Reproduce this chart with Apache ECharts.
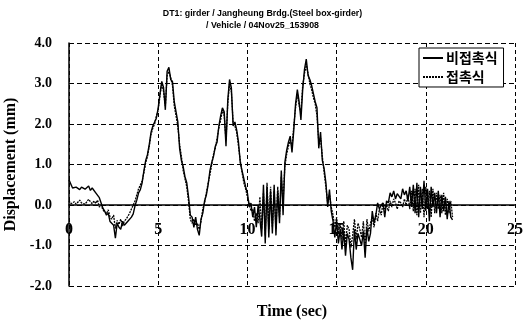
<!DOCTYPE html>
<html><head><meta charset="utf-8">
<script src="https://cdn.jsdelivr.net/npm/echarts@6/dist/echarts.min.js"></script>
<style>html,body{margin:0;padding:0;background:#fff}#c{width:525px;height:323px}</style>
</head><body><div id="c"></div>
<script>
const titleLines = ['DT1: girder / Jangheung Brdg.(Steel box-girder)', '/ Vehicle / 04Nov25_153908'];
const seriesNames = ['비접촉식', '접촉식'];
const xAxisName = 'Time (sec)';
const yAxisName = 'Displacement (mm)';
const xTicks = [0, 5, 10, 15, 20, 25];
const yTicks = [-2, -1, 0, 1, 2, 3, 4];
const sampleStart = 0;   // seconds
const sampleStep = 0.1;  // seconds between samples

const nonContact = [
  0.62, 0.52, 0.42, 0.38, 0.44, 0.47, 0.38, 0.44, 0.48, 0.39,
  0.42, 0.47, 0.36, 0.42, 0.45, 0.30, 0.33, 0.18, 0.05, -0.08,
  -0.15, -0.25, -0.20, -0.41, -0.38, -0.50, -0.82, -0.45, -0.55, -0.60,
  -0.40, -0.50, -0.52, -0.40, -0.38, -0.30, -0.22, -0.02, 0.12, 0.30,
  0.38, 0.55, 0.85, 1.10, 1.25, 1.50, 1.80, 1.95, 2.05, 2.15,
  2.40, 2.75, 3.05, 2.90, 2.35, 3.30, 3.40, 3.10, 3.05, 2.55,
  2.30, 2.05, 1.40, 1.10, 0.95, 0.70, 0.55, 0.20, -0.25, -0.30,
  -0.55, -0.30, -0.60, -0.75, -0.35, -0.20, 0.10, 0.25, 0.50, 0.85,
  1.05, 1.20, 1.45, 1.55, 1.95, 2.20, 2.40, 2.30, 1.45, 2.60,
  3.10, 2.90, 1.95, 2.05, 1.85, 1.55, 1.05, 0.85, 0.65, 0.45,
  0.30, -0.05, 0.05, -0.30, -0.05, -0.55, 0.00, -0.35, -0.78, 0.50,
  -0.95, 0.45, -0.80, 0.35, -0.70, 0.50, -0.75, 0.35, -0.45, 0.85,
  -0.25, 1.05, 1.35, 1.55, 1.70, 1.30, 1.85, 2.50, 2.85, 2.55,
  2.10, 2.85, 3.35, 3.60, 3.20, 3.10, 2.95, 2.75, 2.55, 2.40,
  1.40, 1.80, 1.10, 0.90, 0.55, -0.05, 0.38, -0.15, -0.40, -0.80,
  -0.40, -0.95, -0.60, -1.10, -0.65, -1.25, -0.70, -0.85, -1.30, -1.60,
  -0.60, -1.10, -0.70, -0.85, -1.00, -0.65, -1.30, -0.55, -0.90, -0.70,
  -0.15, -0.45, -0.25, 0.05, -0.10, 0.00, 0.05, -0.30, 0.10, 0.05,
  0.30, 0.20, 0.35, 0.15, 0.28, 0.32, 0.15, 0.40, 0.25, 0.35,
  0.10, 0.45, -0.05, 0.50, -0.20, 0.55, -0.30, 0.45, -0.10, 0.60,
  -0.15, 0.40, -0.40, 0.45, -0.05, 0.30, -0.20, 0.35, -0.30, 0.25,
  -0.15, 0.20, -0.35, 0.10, -0.30, -0.37
];

const contact = [
  0.10, 0.03, 0.05, 0.08, 0.02, 0.06, 0.12, 0.05, 0.08, 0.02,
  0.06, 0.14, 0.08, 0.03, 0.10, 0.04, 0.12, -0.05, 0.00, -0.12,
  -0.15, -0.22, -0.12, -0.30, -0.35, -0.25, -0.58, -0.38, -0.48, -0.35,
  -0.52, -0.40, -0.35, -0.28, -0.20, -0.10, 0.00, 0.10, 0.25, 0.40,
  0.49, 0.60, 0.80, 1.05, 1.20, 1.45, 1.75, 1.90, 2.00, 2.20,
  2.35, 2.70, 3.00, 2.80, 2.45, 3.20, 3.30, 3.15, 2.95, 2.45,
  2.20, 1.95, 1.50, 1.20, 0.85, 0.65, 0.45, 0.10, -0.35, -0.45,
  -0.35, -0.50, -0.45, -0.60, -0.40, -0.10, 0.05, 0.30, 0.55, 0.75,
  1.00, 1.25, 1.40, 1.65, 1.90, 2.10, 2.35, 2.20, 1.60, 2.50,
  3.00, 2.80, 2.05, 1.95, 1.80, 1.45, 1.10, 0.80, 0.55, 0.40,
  0.20, 0.05, -0.15, -0.10, -0.40, -0.20, -0.45, 0.20, -0.60, 0.30,
  -0.75, 0.55, -0.60, 0.45, -0.55, 0.35, -0.60, 0.45, -0.30, 0.70,
  0.10, 0.95, 1.25, 1.45, 1.60, 1.45, 1.95, 2.40, 2.75, 2.45,
  2.30, 2.95, 3.25, 3.45, 3.25, 3.00, 2.85, 2.65, 2.50, 2.20,
  1.55, 1.65, 1.20, 0.80, 0.45, 0.05, 0.25, -0.05, -0.25, -0.55,
  -0.30, -0.70, -0.45, -0.85, -0.40, -1.00, -0.50, -0.60, -1.05, -0.75,
  -0.35, -0.85, -0.45, -0.60, -0.80, -0.40, -1.00, -0.35, -0.65, -0.45,
  -0.30, -0.55, -0.20, -0.40, -0.10, -0.25, 0.05, -0.10, 0.00, -0.15,
  0.10, -0.05, 0.15, 0.05, -0.10, 0.10, 0.05, -0.05, 0.15, 0.00,
  0.25, -0.10, 0.35, -0.15, 0.40, -0.25, 0.50, -0.20, 0.40, -0.30,
  0.45, -0.10, 0.35, -0.30, 0.40, -0.20, 0.30, -0.10, 0.25, -0.20,
  0.30, -0.25, 0.15, -0.20, 0.10, -0.30
];

function toPairs(vals) {
  return vals.map((v, i) => [+(sampleStart + i * sampleStep).toFixed(2), v]);
}

const serif = 'Liberation Serif';
const gridTop = 43, gridBottom = 37, chartH = 323;
const yMin = yTicks[0], yMax = yTicks[yTicks.length - 1];
// shift the x axis (line + labels) up to the y = 0 level, as in the original
const plotH = chartH - gridTop - gridBottom;
const zeroOffset = -plotH * (0 - yMin) / (yMax - yMin);

const chart = echarts.init(document.getElementById('c'), null, {renderer: 'canvas'});
chart.setOption({
  animation: false,
  backgroundColor: '#fff',
  title: {
    text: titleLines.join('\n'),
    left: 'center',
    top: 3,
    textStyle: {fontFamily: 'Liberation Sans', fontWeight: 'bold', fontSize: 8.8, lineHeight: 12, color: '#000'}
  },
  grid: {left: 69, right: 10, top: gridTop, bottom: gridBottom, containLabel: false, outerBoundsMode: 'none'},
  legend: {
    orient: 'vertical',
    left: 419, top: 48,
    padding: [3, 6, 3, 3],
    itemGap: 5,
    itemWidth: 20, itemHeight: 14,
    backgroundColor: '#fff',
    borderColor: '#000', borderWidth: 1,
    itemStyle: {opacity: 0},
    textStyle: {fontFamily: 'Noto Sans CJK KR', fontWeight: 'bold', fontSize: 14, color: '#000', padding: [0,0,0,-2]},
    data: seriesNames
  },
  xAxis: {
    type: 'value', min: xTicks[0], max: xTicks[xTicks.length - 1], interval: xTicks[1] - xTicks[0],
    position: 'bottom', offset: zeroOffset,
    axisLine: {onZero: false, lineStyle: {color: '#000', width: 1.5}},
    axisTick: {show: false},
    axisLabel: {color: '#000', fontFamily: serif, fontWeight: 'bold', fontSize: 16, margin: 17},
    splitLine: {show: true, lineStyle: {color: '#000', type: [4, 3], width: 1}},
    name: xAxisName, nameLocation: 'middle', nameGap: 99,
    nameTextStyle: {color: '#000', fontFamily: serif, fontWeight: 'bold', fontSize: 16}
  },
  yAxis: {
    type: 'value', min: yMin, max: yMax, interval: yTicks[1] - yTicks[0],
    axisLine: {show: true, onZero: false, lineStyle: {color: '#000', width: 1.5}},
    axisTick: {show: false},
    axisLabel: {color: '#000', fontFamily: serif, fontWeight: 'bold', fontSize: 14, margin: 17, formatter: v => v.toFixed(1)},
    splitLine: {show: true, lineStyle: {color: '#000', type: [5, 3], width: 1}},
    name: yAxisName, nameLocation: 'middle', nameGap: 50, nameRotate: 90,
    nameTextStyle: {color: '#000', fontFamily: serif, fontWeight: 'bold', fontSize: 16}
  },
  series: [
    {name: seriesNames[0], type: 'line', symbol: 'none', data: toPairs(nonContact),
     lineStyle: {color: '#000', width: 1.4}, itemStyle: {color: '#000'}},
    {name: seriesNames[1], type: 'line', symbol: 'none', data: toPairs(contact),
     lineStyle: {color: '#000', width: 1.3, type: [2, 1]}, itemStyle: {color: '#000'}}
  ]
});
</script></body></html>
